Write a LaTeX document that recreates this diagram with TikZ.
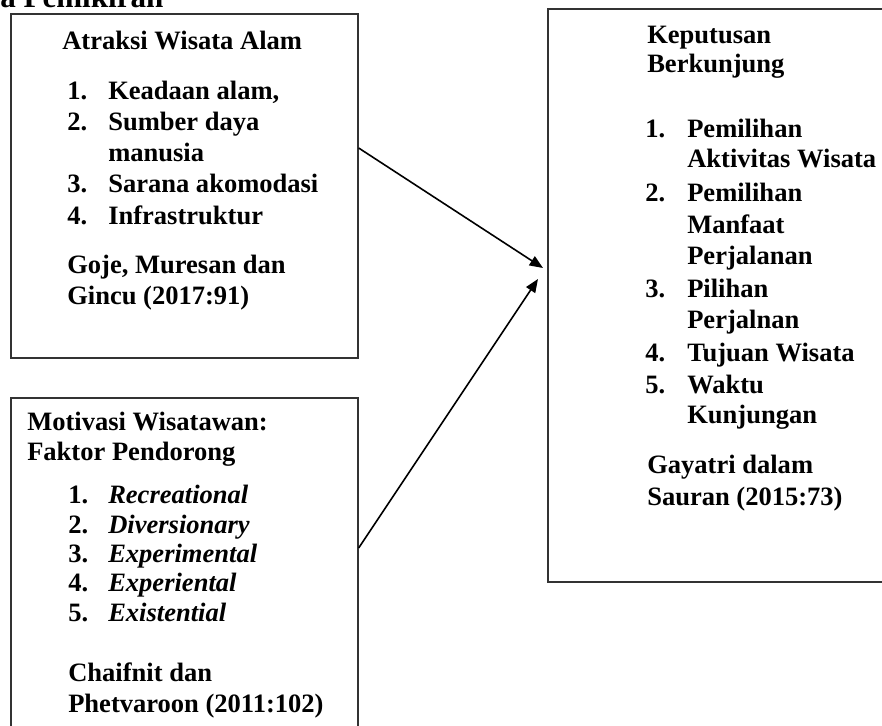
\documentclass[tikz,border=0pt]{standalone}
\usepackage{fontspec}
\setmainfont{Liberation Serif}
\usetikzlibrary{arrows.meta,fit}
\begin{document}
\begin{tikzpicture}[x=0.75pt,y=-0.75pt,
  box/.style={draw=black!80,line width=1pt,inner sep=0pt},
  txt/.style={anchor=base west,inner sep=0pt,font=\fontsize{19.9pt}{23pt}\selectfont\bfseries},
  ttl/.style={anchor=base west,inner sep=0pt,font=\fontsize{23.3pt}{27pt}\selectfont\bfseries},
  arr/.style={draw=black,line width=1.2pt,-{Triangle[length=10pt,width=8pt]}}]
\useasboundingbox (0,0) rectangle (882,725);
\newcommand\mytxt[4]{\node[txt] (#1) at (#2,#3) {#4};}
% partial title
\node[ttl] (title) at (0,7) {a Pemikiran};
% boxes
\node[box,fit={(11,14) (358,358)}] (b1) {};
\node[box,fit={(11,398) (358,745)}] (b2) {};
\node[box,fit={(548,9) (895,582)}] (b3) {};
% box 1 text
\mytxt{h1}{62}{49}{Atraksi Wisata Alam}
\mytxt{n11}{67}{99}{1.}  \mytxt{t11}{108}{99}{Keadaan alam,}
\mytxt{n12}{67}{130}{2.} \mytxt{t12}{108}{130}{Sumber daya}
\mytxt{t12b}{108}{161}{manusia}
\mytxt{n13}{67}{192}{3.} \mytxt{t13}{108}{192}{Sarana akomodasi}
\mytxt{n14}{67}{224}{4.} \mytxt{t14}{108}{224}{Infrastruktur}
\mytxt{c1a}{67}{273}{Goje, Muresan dan}
\mytxt{c1b}{67}{304}{Gincu (2017:91)}
% box 2 text
\mytxt{h2a}{27}{430}{Motivasi Wisatawan:}
\mytxt{h2b}{27}{460}{Faktor Pendorong}
\mytxt{n21}{68}{503}{1.} \mytxt{t21}{108}{503}{\itshape Recreational}
\mytxt{n22}{68}{533}{2.} \mytxt{t22}{108}{533}{\itshape Diversionary}
\mytxt{n23}{68}{562}{3.} \mytxt{t23}{108}{562}{\itshape Experimental}
\mytxt{n24}{68}{591}{4.} \mytxt{t24}{108}{591}{\itshape Experiental}
\mytxt{n25}{68}{621}{5.} \mytxt{t25}{108}{621}{\itshape Existential}
\mytxt{c2a}{68}{681}{Chaifnit dan}
\mytxt{c2b}{68}{712}{Phetvaroon (2011:102)}
% box 3 text
\mytxt{h3a}{647}{43}{Keputusan}
\mytxt{h3b}{647}{72}{Berkunjung}
\mytxt{n31}{645}{137}{1.} \mytxt{t31}{687}{137}{Pemilihan}
\mytxt{t31b}{687}{167}{Aktivitas Wisata}
\mytxt{n32}{645}{201}{2.} \mytxt{t32}{687}{201}{Pemilihan}
\mytxt{t32b}{687}{233}{Manfaat}
\mytxt{t32c}{687}{264}{Perjalanan}
\mytxt{n33}{645}{297}{3.} \mytxt{t33}{687}{297}{Pilihan}
\mytxt{t33b}{687}{328}{Perjalnan}
\mytxt{n34}{645}{361}{4.} \mytxt{t34}{687}{361}{Tujuan Wisata}
\mytxt{n35}{645}{393}{5.} \mytxt{t35}{687}{393}{Waktu}
\mytxt{t35b}{687}{423}{Kunjungan}
\mytxt{c3a}{647}{473}{Gayatri dalam}
\mytxt{c3b}{647}{505}{Sauran (2015:73)}
% connectors
\coordinate (s1) at (b1.east |- 0,148);
\coordinate (e1) at (543,268);
\coordinate (s2) at (b2.east |- 0,548);
\coordinate (e2) at (538,279);
\draw[arr] (s1) -- (e1);
\draw[arr] (s2) -- (e2);
\end{tikzpicture}
\end{document}
